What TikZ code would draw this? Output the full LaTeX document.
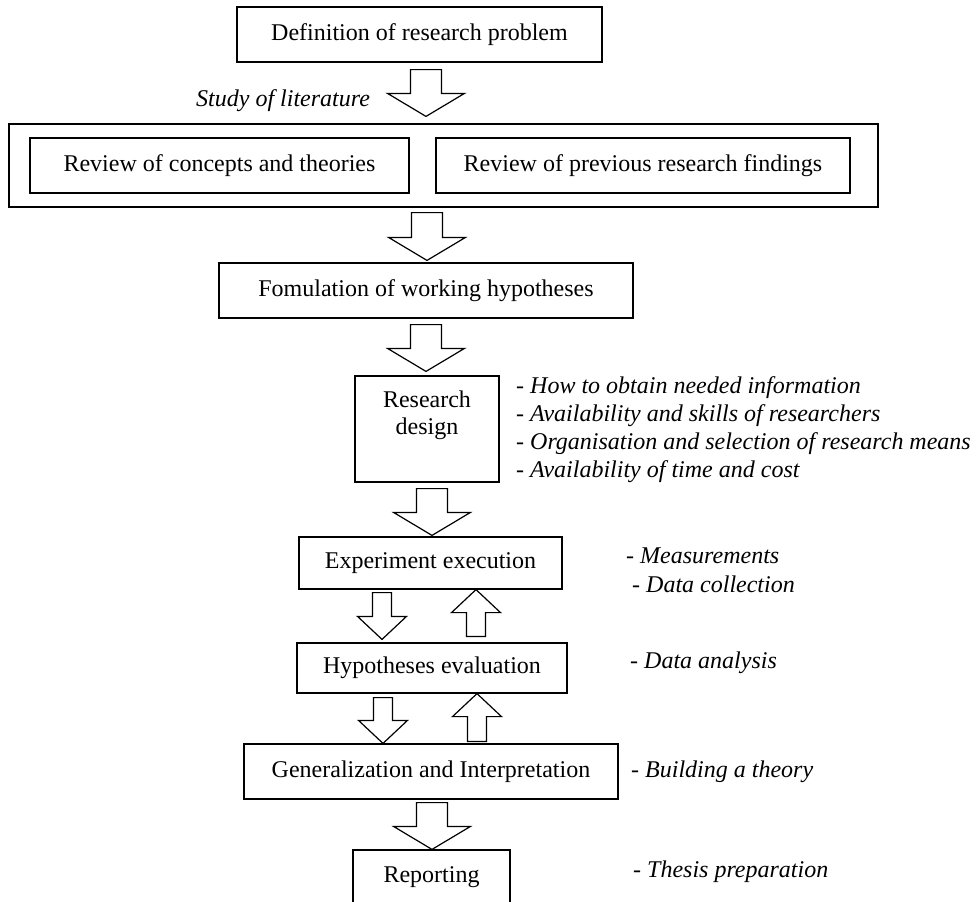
\documentclass[tikz,border=0pt]{standalone}
\usepackage{fontspec}
\setmainfont{Liberation Serif}
\usetikzlibrary{calc}

\begin{document}
\begin{tikzpicture}[%
  x = 1pt, y = -1pt,
  font = \fontsize{24}{27.7}\selectfont,
  box/.style = {draw, rectangle, inner sep = 0pt, line width = 1.2pt},
  note/.style = {anchor = base west, inner sep = 0pt, align = left,
    font = \fontsize{24}{27.7}\selectfont\itshape},
  blockarrow/.style 2 args = {draw, fill = white, line width = 1.2pt, to path = {
      let \p1 = (\tikztostart), \p2 = (\tikztotarget),
          \p3 = ($(\x1, \y2)!23pt!(\p1)$) in
      (\x1 - #1, \y1) -- (\x1 - #1, \y3) -- (\x1 - #2, \y3) -- (\x1, \y2)
      -- (\x1 + #2, \y3) -- (\x1 + #1, \y3) -- (\x1 + #1, \y1) -- cycle}},
  bigarrow/.style = {blockarrow = {15.5pt}{38.5pt}},
  smallarrow/.style = {blockarrow = {9.5pt}{24.5pt}}]
  \useasboundingbox (0, 0) rectangle (978, 902);
  \clip (0, 0) rectangle (978, 902);

  \node[box, minimum width = 365pt, minimum height = 55pt] (def) at (419.5, 34.5) {Definition of research problem};
  \node[box, minimum width = 869pt, minimum height = 83pt] (lit) at (443.5, 165.5) {};
  \node[box, minimum width = 379pt, minimum height = 55pt] (conc) at (219.5, 165.5) {Review of concepts and theories};
  \node[box, minimum width = 414pt, minimum height = 55pt] (prev) at (643, 165.5) {Review of previous research findings};
  \node[box, minimum width = 414pt, minimum height = 55pt] (fom) at (426, 290.5) {Fomulation of working hypotheses};
  \node[box, text width = 144pt, align = center, text height = 31pt, text depth = 75pt,
    anchor = base] (rd) at (427, 407) {Research\\design};
  \node[box, minimum width = 263pt, minimum height = 52pt] (exp) at (430.5, 563) {Experiment execution};
  \node[box, minimum width = 270pt, minimum height = 50pt] (hyp) at (432, 668) {Hypotheses evaluation};
  \node[box, minimum width = 374pt, minimum height = 55pt] (gen) at (431, 771.5) {Generalization and Interpretation};
  \node[box, minimum width = 157pt, minimum height = 55pt] (rep) at (431.5, 877.5) {Reporting};

  % notes: base is the last line
  \node[note] (litnote) at (196, 106) {Study of literature};
  \node[note] (rdnote) at (516, 477) {- How to obtain needed information\\
    - Availability and skills of researchers\\
    - Organisation and selection of research means\\
    - Availability of time and cost};
  \node[note] (expnote) at (626, 592) {- Measurements\\[1.3pt]\hspace{6pt}- Data collection};
  \node[note] (hypnote) at (630, 668) {- Data analysis};
  \node[note] (gennote) at (631, 777) {- Building a theory};
  \node[note] (repnote) at (633, 877) {- Thesis preparation};

  \draw[bigarrow] ([xshift = 6.5pt, yshift = -7pt] def.south) to ([yshift = 7pt] lit.north);
  \draw[bigarrow] ([xshift = -16.5pt, yshift = -5pt] lit.south) to ([yshift = 2pt] fom.north);
  \draw[bigarrow] ([yshift = -6pt] fom.south) to ([yshift = 4pt] rd.north);
  \draw[bigarrow] ([xshift = 5pt, yshift = -6pt] rd.south) to ([yshift = 1pt] exp.north);
  \draw[smallarrow] ([xshift = -48.5pt, yshift = -3pt] exp.south) to ([yshift = 3pt] hyp.north);
  \draw[smallarrow] ([xshift = 44pt, yshift = 6pt] hyp.north) to (exp.south);
  \draw[smallarrow] ([xshift = -49pt, yshift = -4pt] hyp.south) to (gen.north);
  \draw[smallarrow] ([xshift = 46pt, yshift = 2pt] gen.north) to (hyp.south);
  \draw[bigarrow] ([xshift = 1pt, yshift = -3pt] gen.south) to (rep.north);
\end{tikzpicture}
\end{document}
